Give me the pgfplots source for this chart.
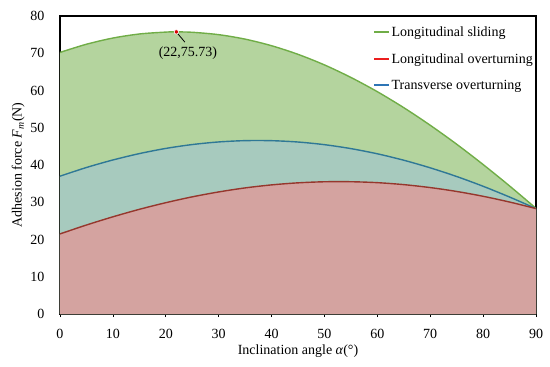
\documentclass[border=0pt]{standalone}
\usepackage{fontspec}
\setmainfont{Liberation Serif}
\usepackage{pgfplots}
\pgfplotsset{compat=1.18}
\definecolor{gline}{RGB}{112,173,71}
\definecolor{gfill}{RGB}{180,212,158}
\definecolor{tfill}{RGB}{167,202,190}
\definecolor{rfill}{RGB}{212,163,160}
\definecolor{bline}{RGB}{47,120,150}
\definecolor{rline}{RGB}{150,55,45}
\definecolor{rleg}{RGB}{235,30,30}
\definecolor{bleg}{RGB}{46,117,182}
\begin{document}
\begin{tikzpicture}
\begin{axis}[name=ax,
  scale only axis, width=476pt, height=298pt,
  xmin=0, xmax=90, ymin=0, ymax=80,
  xtick={0,10,...,90}, ytick={0,10,...,80},
  tick align=outside, tick pos=left,
  ytick style={draw=none},
  xtick style={black, line width=0.6pt},
  major tick length=3pt,
  axis line style={black, line width=1.1pt},
  /pgf/number format/assume math mode=true,
  tick label style={font=\fontsize{14}{16}\selectfont},
  yticklabel style={xshift=-9pt},
  xticklabel style={yshift=-9pt},
  xlabel={Inclination angle \textit{α}(°)},
  ylabel={Adhesion force \textit{F\textsubscript{m}}(N)},
  label style={font=\fontsize{14}{16}\selectfont},
  xlabel style={yshift=1pt},
  ylabel style={yshift=-1pt},
  legend style={at={(1.0,0.975)}, anchor=north east, draw=none, fill=none,
    font=\fontsize{14}{16}\selectfont, row sep=11.5pt, inner sep=1pt},
  legend cell align=left,
  legend image code/.code={\draw[#1, line width=2pt] (0cm,0cm) -- (0.5cm,0cm);},
]
% fills
\addplot[fill=gfill, draw=none, forget plot] coordinates {
(0,70.22)(5,72.42)(10,74.08)(15,75.17)(20,75.68)(22,75.73)(25,75.63)(30,74.99)(35,73.79)(40,72.02)(45,69.71)(50,66.87)(55,63.51)(60,59.68)(65,55.39)(70,50.67)(75,45.58)(80,40.13)(85,34.38)(90,28.37)
(90,0)(0,0)} \closedcycle;
\addplot[fill=tfill, draw=none, forget plot] coordinates {
(0,37.00)(5,39.33)(10,41.35)(15,43.06)(20,44.45)(25,45.49)(30,46.19)(35,46.54)(40,46.53)(45,46.17)(50,45.46)(55,44.40)(60,43.01)(65,41.28)(70,39.24)(75,36.91)(80,34.29)(85,31.40)(90,28.30)
(90,0)(0,0)} \closedcycle;
\addplot[fill=rfill, draw=none, forget plot] coordinates {
(0,21.50)(5,23.89)(10,26.09)(15,28.10)(20,29.88)(25,31.45)(30,32.77)(35,33.85)(40,34.66)(45,35.21)(50,35.50)(55,35.51)(60,35.26)(65,34.73)(70,33.94)(75,32.90)(80,31.60)(85,30.06)(90,28.30)
(90,0)(0,0)} \closedcycle;
% lines
\addplot[gline, line width=1.4pt, smooth, forget plot] coordinates {
(0,70.22)(5,72.42)(10,74.08)(15,75.17)(20,75.68)(22,75.73)(25,75.63)(30,74.99)(35,73.79)(40,72.02)(45,69.71)(50,66.87)(55,63.51)(60,59.68)(65,55.39)(70,50.67)(75,45.58)(80,40.13)(85,34.38)(90,28.37)};
\addplot[bline, line width=1.4pt, smooth, forget plot] coordinates {
(0,37.00)(5,39.33)(10,41.35)(15,43.06)(20,44.45)(25,45.49)(30,46.19)(35,46.54)(40,46.53)(45,46.17)(50,45.46)(55,44.40)(60,43.01)(65,41.28)(70,39.24)(75,36.91)(80,34.29)(85,31.40)(90,28.30)};
\addplot[rline, line width=1.4pt, smooth, forget plot] coordinates {
(0,21.50)(5,23.89)(10,26.09)(15,28.10)(20,29.88)(25,31.45)(30,32.77)(35,33.85)(40,34.66)(45,35.21)(50,35.50)(55,35.51)(60,35.26)(65,34.73)(70,33.94)(75,32.90)(80,31.60)(85,30.06)(90,28.30)};
% annotation
\draw[black, line width=0.8pt] (axis cs:22.3,75.2) -- (axis cs:23.6,73.0);
\addplot[only marks, mark=*, mark size=2.2pt, mark options={fill=red!85!black, draw=white, line width=0.6pt}, forget plot] coordinates {(22,75.73)};
\node[font=\fontsize{14}{16}\selectfont] at (axis cs:24.2,70.0) {(22,75.73)};
% legend
\addlegendimage{gline}
\addlegendentry{Longitudinal sliding}
\addlegendimage{rleg}
\addlegendentry{Longitudinal overturning}
\addlegendimage{bleg}
\addlegendentry{Transverse overturning}
\end{axis}
\path (ax.south west) ++(-60pt,-52pt) rectangle ([shift={(14pt,16pt)}]ax.north east);
\end{tikzpicture}
\end{document}
